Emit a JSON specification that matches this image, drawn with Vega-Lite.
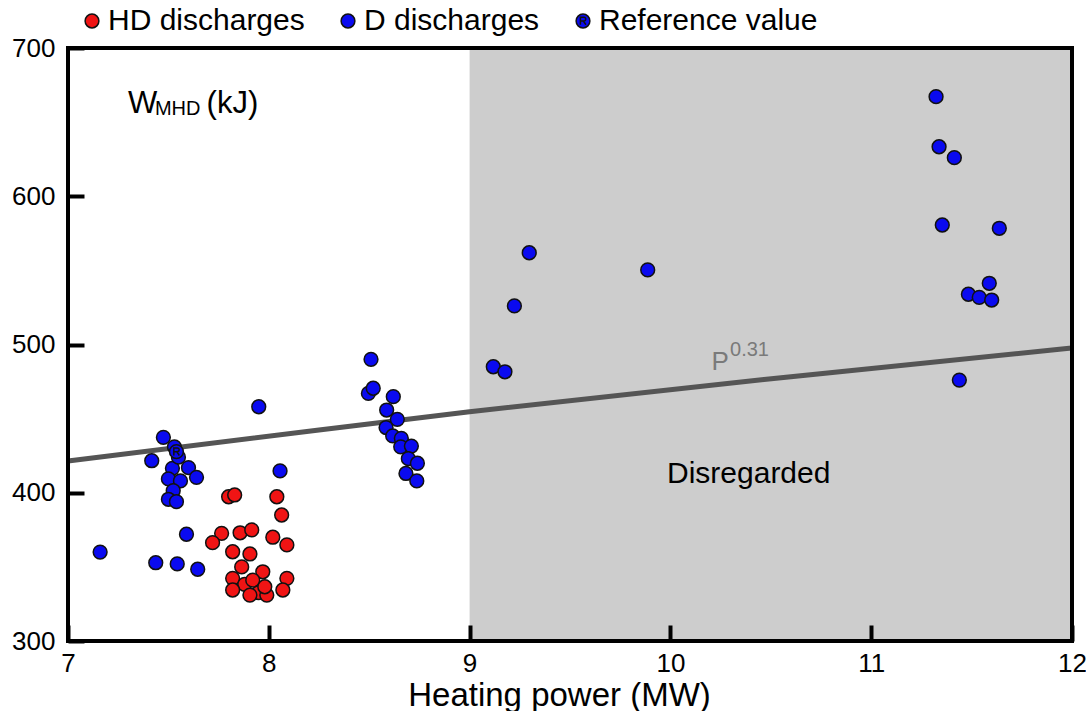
{
  "$schema": "https://vega.github.io/schema/vega-lite/v6.json",
  "width": 1004,
  "height": 593,
  "autosize": {"type": "none"},
  "padding": {"left": 68, "top": 48, "right": 14, "bottom": 70},
  "background": "white",
  "config": {"view": {"stroke": null}, "font": "Liberation Sans"},
  "encoding": {
    "x": {
      "field": "x", "type": "quantitative",
      "scale": {"domain": [7, 12], "nice": false, "zero": false},
      "axis": {
        "title": "Heating power (MW)", "titleFontSize": 33, "titleFontWeight": "normal", "titleColor": "black", "titlePadding": 3,
        "titleX": 491, "titleAlign": "center",
        "values": [7, 8, 9, 10, 11, 12], "labelFontSize": 26, "labelColor": "black", "labelPadding": 9,
        "ticks": true, "offset": -16, "tickSize": 16, "tickWidth": 4, "tickColor": "black", "tickOpacity": 1,
        "domain": false, "grid": false, "zindex": 2,
        "labelFlush": false, "labelOverlap": false
      }
    },
    "y": {
      "field": "y", "type": "quantitative",
      "scale": {"domain": [300, 700], "nice": false, "zero": false},
      "axis": {
        "title": null, "values": [300, 400, 500, 600, 700], "labelFontSize": 26, "labelColor": "black", "labelPadding": 13,
        "ticks": true, "offset": -16, "tickSize": 16, "tickWidth": 4, "tickColor": "black", "tickOpacity": 1,
        "domain": false, "grid": false, "zindex": 2,
        "labelFlush": false, "labelOverlap": false
      }
    }
  },
  "layer": [
    {
      "data": {"values": [{"x": 9, "x2": 12, "y": 300, "y2": 700}]},
      "mark": {"type": "rect", "fill": "#cdcdcd"},
      "encoding": {"x2": {"field": "x2"}, "y2": {"field": "y2"}}
    },
    {
      "data": {"values": [
        {"x": 7, "y": 421.4}, {"x": 8.25, "y": 442.3}, {"x": 9, "y": 454.7},
        {"x": 10.6, "y": 478.3}, {"x": 12, "y": 497.6}
      ]},
      "mark": {"type": "line", "color": "#555555", "strokeWidth": 5, "interpolate": "monotone"}
    },
    {
      "data": {"values": [
        {"series": "D discharges", "x": 7.16, "y": 360},
        {"series": "D discharges", "x": 7.437, "y": 352.8},
        {"series": "D discharges", "x": 7.544, "y": 352},
        {"series": "D discharges", "x": 7.646, "y": 348.4},
        {"series": "D discharges", "x": 7.59, "y": 372},
        {"series": "D discharges", "x": 7.475, "y": 437.4},
        {"series": "D discharges", "x": 7.417, "y": 421.6},
        {"series": "D discharges", "x": 7.52, "y": 416.5},
        {"series": "D discharges", "x": 7.6, "y": 416.9},
        {"series": "D discharges", "x": 7.64, "y": 410.4},
        {"series": "D discharges", "x": 7.5, "y": 409.3},
        {"series": "D discharges", "x": 7.56, "y": 408},
        {"series": "D discharges", "x": 7.524, "y": 401.4},
        {"series": "D discharges", "x": 7.5, "y": 395.6},
        {"series": "D discharges", "x": 7.54, "y": 394},
        {"series": "D discharges", "x": 7.53, "y": 431},
        {"series": "D discharges", "x": 7.55, "y": 424},
        {"series": "D discharges", "x": 7.95, "y": 458},
        {"series": "D discharges", "x": 8.056, "y": 414.7},
        {"series": "D discharges", "x": 8.509, "y": 490},
        {"series": "D discharges", "x": 8.496, "y": 467},
        {"series": "D discharges", "x": 8.52, "y": 470.5},
        {"series": "D discharges", "x": 8.62, "y": 464.8},
        {"series": "D discharges", "x": 8.587, "y": 455.8},
        {"series": "D discharges", "x": 8.64, "y": 449.5},
        {"series": "D discharges", "x": 8.584, "y": 444},
        {"series": "D discharges", "x": 8.617, "y": 438.3},
        {"series": "D discharges", "x": 8.66, "y": 436.7},
        {"series": "D discharges", "x": 8.657, "y": 431},
        {"series": "D discharges", "x": 8.71, "y": 431.5},
        {"series": "D discharges", "x": 8.695, "y": 423},
        {"series": "D discharges", "x": 8.74, "y": 419.9},
        {"series": "D discharges", "x": 8.683, "y": 413},
        {"series": "D discharges", "x": 8.737, "y": 408},
        {"series": "D discharges", "x": 9.118, "y": 485},
        {"series": "D discharges", "x": 9.176, "y": 481.6},
        {"series": "D discharges", "x": 9.223, "y": 526},
        {"series": "D discharges", "x": 9.297, "y": 561.9},
        {"series": "D discharges", "x": 9.887, "y": 550.3},
        {"series": "D discharges", "x": 11.323, "y": 667.2},
        {"series": "D discharges", "x": 11.338, "y": 633.4},
        {"series": "D discharges", "x": 11.414, "y": 626},
        {"series": "D discharges", "x": 11.354, "y": 580.6},
        {"series": "D discharges", "x": 11.638, "y": 578.4},
        {"series": "D discharges", "x": 11.588, "y": 541.3},
        {"series": "D discharges", "x": 11.484, "y": 533.9},
        {"series": "D discharges", "x": 11.538, "y": 531.8},
        {"series": "D discharges", "x": 11.6, "y": 530},
        {"series": "D discharges", "x": 11.439, "y": 476},
        {"series": "HD discharges", "x": 7.8, "y": 397.3},
        {"series": "HD discharges", "x": 7.83, "y": 398.5},
        {"series": "HD discharges", "x": 8.04, "y": 397.3},
        {"series": "HD discharges", "x": 8.064, "y": 385},
        {"series": "HD discharges", "x": 7.765, "y": 372.6},
        {"series": "HD discharges", "x": 7.72, "y": 366.3},
        {"series": "HD discharges", "x": 7.857, "y": 373},
        {"series": "HD discharges", "x": 7.915, "y": 374.9},
        {"series": "HD discharges", "x": 8.02, "y": 370},
        {"series": "HD discharges", "x": 8.09, "y": 364.8},
        {"series": "HD discharges", "x": 7.82, "y": 360.2},
        {"series": "HD discharges", "x": 7.906, "y": 358.7},
        {"series": "HD discharges", "x": 7.865, "y": 350},
        {"series": "HD discharges", "x": 7.97, "y": 346.7},
        {"series": "HD discharges", "x": 7.82, "y": 342.3},
        {"series": "HD discharges", "x": 8.09, "y": 342.3},
        {"series": "HD discharges", "x": 7.88, "y": 338.2},
        {"series": "HD discharges", "x": 7.82, "y": 334.4},
        {"series": "HD discharges", "x": 7.92, "y": 341},
        {"series": "HD discharges", "x": 7.95, "y": 332.6},
        {"series": "HD discharges", "x": 7.99, "y": 331},
        {"series": "HD discharges", "x": 8.07, "y": 334.4},
        {"series": "HD discharges", "x": 7.906, "y": 331},
        {"series": "HD discharges", "x": 7.98, "y": 336.6},
        {"series": "Reference value", "x": 7.54, "y": 427.7}
      ]},
      "mark": {"type": "point", "filled": true, "opacity": 1, "stroke": "#111111", "strokeWidth": 1.5},
      "encoding": {
        "fill": {
          "field": "series", "type": "nominal",
          "scale": {"domain": ["HD discharges", "D discharges", "Reference value"], "range": ["#f01414", "#0a0af0", "#0a0af0"]},
          "legend": {
            "title": null, "orient": "none", "legendX": 9, "legendY": -42, "direction": "horizontal",
            "labelFontSize": 30, "labelColor": "black", "labelFont": "Liberation Sans", "labelLimit": 500,
            "columnPadding": 28, "labelOffset": 1, "padding": 0,
            "symbolStrokeColor": "#111111", "symbolStrokeWidth": 1.5
          }
        },
        "shape": {
          "field": "series", "type": "nominal",
          "scale": {"domain": ["HD discharges", "D discharges", "Reference value"], "range": ["circle", "circle", "M1,0A1,1,0,1,1,-1,0A1,1,0,1,1,1,0ZM-0.38,0.55L-0.38,-0.55L0.12,-0.55A0.275,0.275,0,0,1,0.12,0L-0.38,0M0.05,0L0.42,0.55"]},
          "legend": {"title": null}
        },
        "size": {
          "field": "series", "type": "nominal",
          "scale": {"domain": ["HD discharges", "D discharges", "Reference value"], "range": [190, 190, 400]},
          "legend": {"title": null}
        }
      }
    },
    {
      "data": {"values": [{"x": 10.39, "y": 406.7, "text": "Disregarded"}]},
      "mark": {"type": "text", "align": "center", "baseline": "alphabetic", "fontSize": 30, "color": "black"},
      "encoding": {"text": {"field": "text"}}
    },
    {
      "data": {"values": [{"x": 7.299, "y": 656.2, "text": "W"}, {"x": 7.69, "y": 656.2, "text": "(kJ)"}]},
      "mark": {"type": "text", "align": "left", "baseline": "alphabetic", "fontSize": 31, "color": "black"},
      "encoding": {"text": {"field": "text"}}
    },
    {
      "data": {"values": [{"x": 7.433, "y": 654.8, "text": "MHD"}]},
      "mark": {"type": "text", "align": "left", "baseline": "alphabetic", "fontSize": 20, "color": "black"},
      "encoding": {"text": {"field": "text"}}
    },
    {
      "data": {"values": [{"x": 10.205, "y": 482.8, "text": "P"}]},
      "mark": {"type": "text", "align": "left", "baseline": "alphabetic", "fontSize": 26, "color": "#7a7a7a"},
      "encoding": {"text": {"field": "text"}}
    },
    {
      "data": {"values": [{"x": 10.297, "y": 492.2, "text": "0.31"}]},
      "mark": {"type": "text", "align": "left", "baseline": "alphabetic", "fontSize": 20, "color": "#7a7a7a"},
      "encoding": {"text": {"field": "text"}}
    },
    {
      "data": {"values": [{"x": 7, "x2": 12, "y": 300, "y2": 700}]},
      "mark": {"type": "rect", "fillOpacity": 0, "fill": "white", "stroke": "black", "strokeWidth": 4},
      "encoding": {"x2": {"field": "x2"}, "y2": {"field": "y2"}}
    }
  ]
}
